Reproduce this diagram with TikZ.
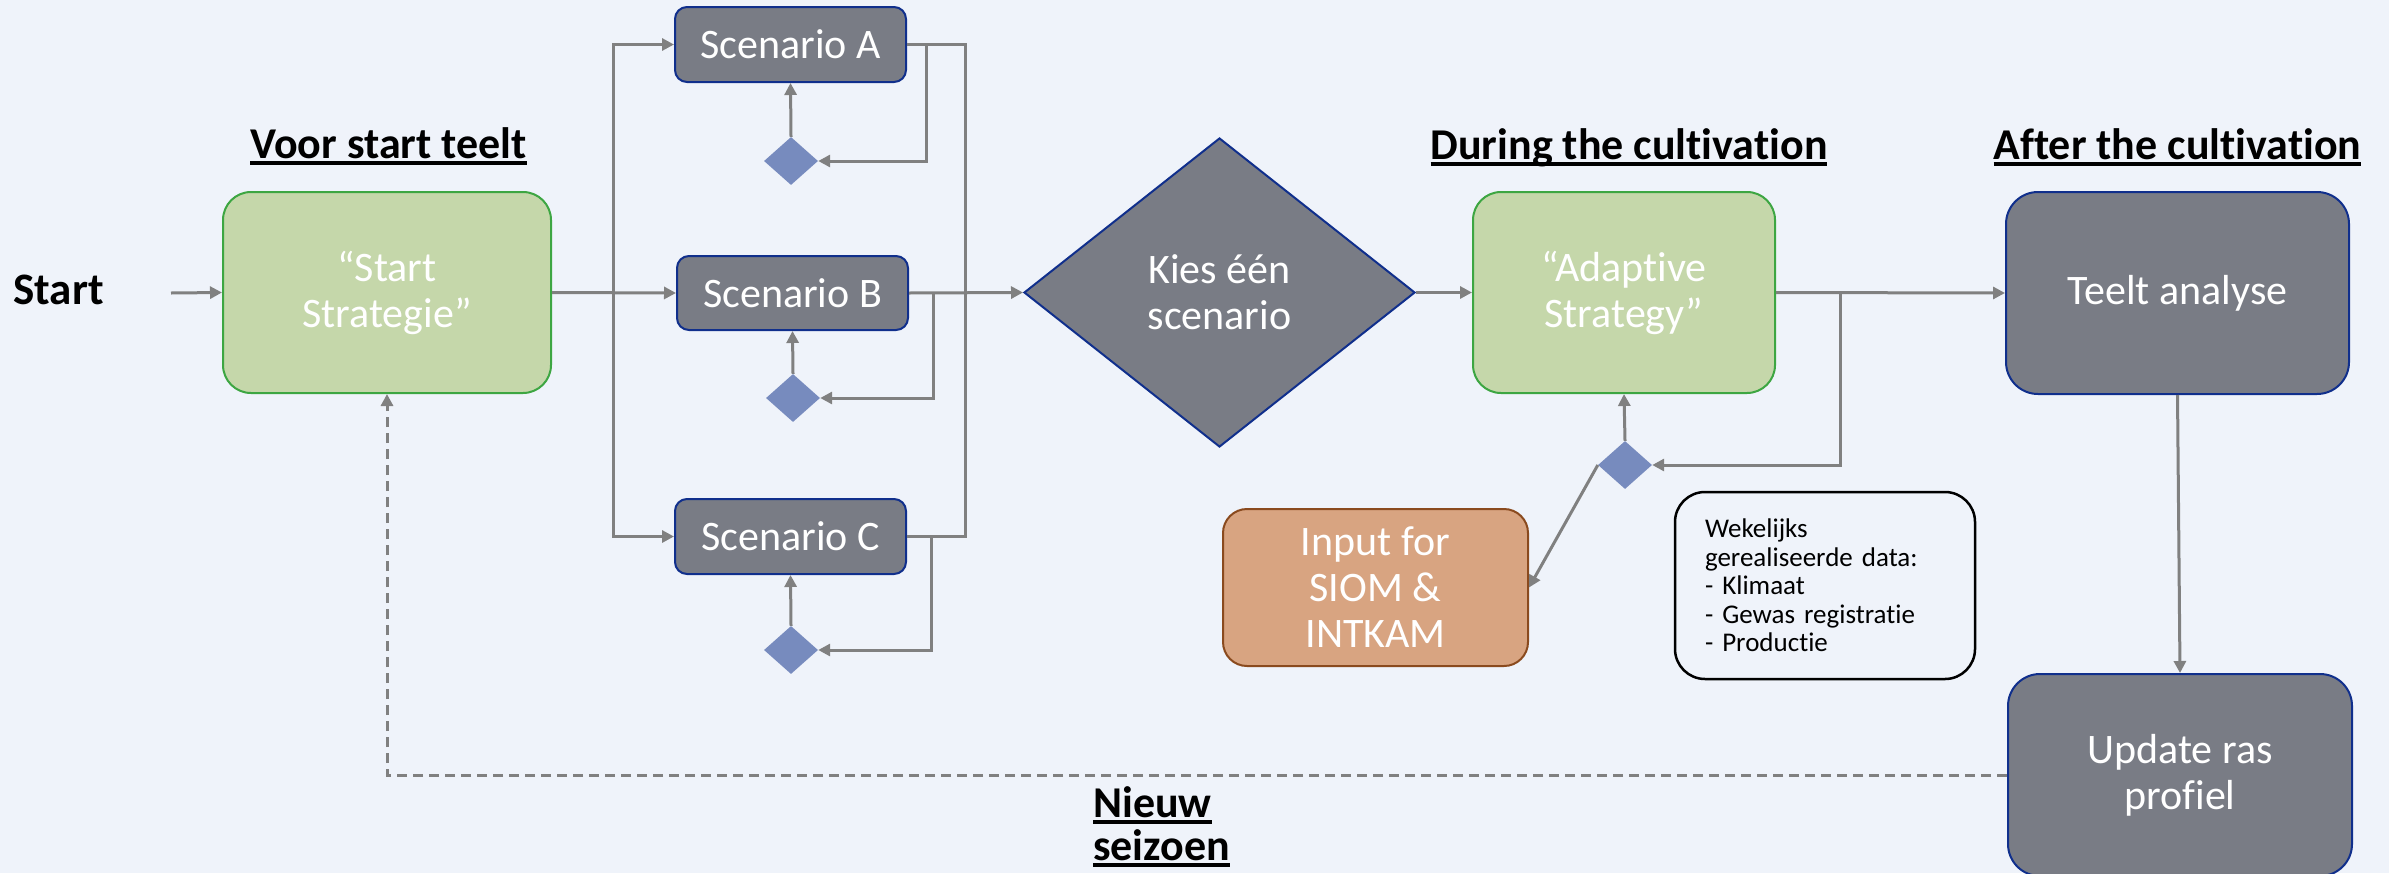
\documentclass[tikz,border=0pt]{standalone}
\usepackage{fontspec}
\setmainfont{Carlito}[Ligatures=NoCommon, Contextuals=NoAlternate]
\usetikzlibrary{shapes.geometric,arrows.meta}

\definecolor{bgcol}{HTML}{EFF3FA}
\definecolor{grayfill}{HTML}{797C85}
\definecolor{navy}{HTML}{102F8C}
\definecolor{greenfill}{HTML}{C5D7AA}
\definecolor{greenline}{HTML}{3DA642}
\definecolor{difill}{HTML}{778BBE}
\definecolor{inputfill}{HTML}{D8A481}
\definecolor{inputline}{HTML}{8A4A1E}
\definecolor{conncol}{HTML}{808080}

% underlined heading text with a heavy rule
\newcommand\hdul[1]{\setbox0\hbox{#1}\rlap{\rule[-7pt]{\wd0}{4pt}}\box0}

\begin{document}
\begin{tikzpicture}[x=1pt,y=-1pt,
  boxtext/.style={text=white, align=center, inner sep=0,
    font=\fontsize{42}{46}\selectfont},
  graybox/.style={boxtext, draw=navy, fill=grayfill, line width=2pt},
  scen/.style={graybox, rounded corners=12pt, minimum width=231pt, minimum height=75pt},
  bigbox/.style={graybox, rounded corners=32pt, minimum width=343pt, minimum height=202pt},
  greenbox/.style={boxtext, draw=greenline, fill=greenfill, line width=2pt,
    rounded corners=28pt, minimum height=201pt},
  smalldia/.style={diamond, fill=difill, minimum width=54pt, minimum height=48pt, inner sep=0},
  inputbox/.style={boxtext, draw=inputline, fill=inputfill, line width=2pt,
    rounded corners=24pt, minimum width=305pt, minimum height=157pt},
  notebox/.style={draw=black, line width=2.5pt, rounded corners=30pt,
    minimum width=300pt, minimum height=187pt, text width=240pt, align=left,
    inner sep=0, font=\fontsize{27}{28.5}\selectfont},
  heading/.style={font=\fontsize{44}{50}\selectfont\bfseries, anchor=base, inner sep=0},
  line/.style={draw=conncol, line width=3pt},
  conn/.style={line, -{Triangle[length=12pt,width=12pt]}},
  dconn/.style={conn, dash pattern=on 10pt off 6pt}
]
% canvas
\fill[bgcol] (0,0) rectangle (2389,873);
\useasboundingbox (0,0) rectangle (2389,873);

% labels and headings
\node[heading, font=\fontsize{45}{50}\selectfont\bfseries] (startlbl) at (58.5,304) {Start};
\node[heading] (h1) at (388.5,158) {\hdul{Voor start teelt}};
\node[heading] (h2) at (1629,159) {\hdul{During the cultivation}};
\node[heading] (h3) at (2177.5,159) {\hdul{After the cultivation}};
\node[heading, anchor=base west] (ns1) at (1093,817) {\hdul{Nieuw}};
\node[heading, anchor=base west] (ns2) at (1093,860) {\hdul{seizoen}};

% process boxes
\node[greenbox, minimum width=328pt] (SS) at (387,292.5) {“Start\\Strategie”};
\node[scen] (A) at (790.5,44.5) {Scenario A};
\node[scen, minimum height=74pt] (B) at (792.5,293) {Scenario B};
\node[scen] (C) at (790.5,536.5) {Scenario C};
\node[smalldia] (dA) at (791,161) {};
\node[smalldia] (dB) at (793,398) {};
\node[smalldia] (dC) at (791,650) {};
\node[diamond, graybox, minimum width=391pt, minimum height=309pt] (Kies) at (1219.5,292.5) {Kies één\\scenario};
\node[greenbox, minimum width=302pt] (AS) at (1624,292.5) {“Adaptive\\Strategy”};
\node[smalldia] (dD) at (1625,465) {};
\node[inputbox] (Input) at (1375.5,587.5) {Input for\\SIOM \&\\INTKAM};
\node[notebox] (Wek) at (1825,585.5) {Wekelijks\\gerealiseerde data:\\- Klimaat\\- Gewas registratie\\- Productie};
\node[bigbox] (Teelt) at (2177.5,293) {Teelt analyse};
\node[bigbox, minimum width=344pt] (Upd) at (2180,775) {Update ras\\profiel};

% routing points
\coordinate (s0) at (171,293);
\coordinate (busL) at (613,293);
\coordinate (busR) at (965,44.5);
\coordinate (lA) at ([xshift=19pt]A.east);
\coordinate (lB) at ([xshift=24pt]B.east);
\coordinate (lC) at ([xshift=24pt]C.east);
\coordinate (brAS) at (1840,292.5);

% connectors
\draw[conn] (s0) -- (SS.west);
\draw[conn] (SS.east) -- (B.west);
\draw[conn] (busL) |- (A.west);
\draw[conn] (busL) |- (C.west);
\draw[line] (A.east) -- (busR) |- (C.east);
\draw[conn] (B.east) -- (Kies.west);

\draw[conn] (lA) |- (dA.east);
\draw[conn] (lB) |- (dB.east);
\draw[conn] (lC) |- (dC.east);
\draw[conn] (dA.north) -- (A.south);
\draw[conn] (dB.north) -- (B.south);
\draw[conn] (dC.north) -- (C.south);

\draw[conn] (Kies.east) -- (AS.west);
\draw[conn] (AS.east) -- (Teelt.west);
\draw[conn] (brAS) |- (dD.east);
\draw[conn] (dD.north) -- (AS.south);
\draw[conn] (dD.west) -- (Input.east);
\draw[conn] (Teelt.south) -- (Upd.north);
\draw[dconn] (Upd.west) -| (SS.south);
\end{tikzpicture}
\end{document}
